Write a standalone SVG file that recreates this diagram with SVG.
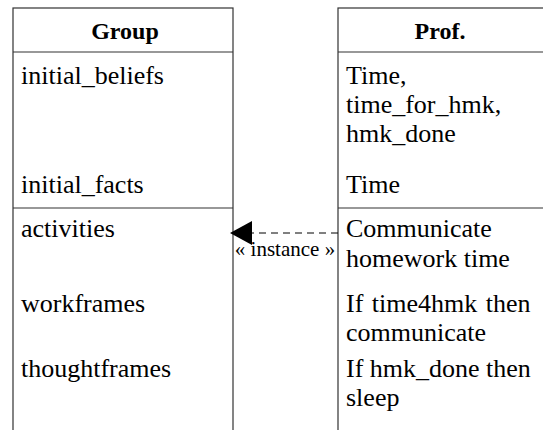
<svg xmlns="http://www.w3.org/2000/svg" width="543" height="430" viewBox="0 0 543 430">
<style>
  .box { fill: #ffffff; stroke: #333333; stroke-width: 1.2; }
  .sep { stroke: #333333; stroke-width: 1.2; }
  text { font-family: 'Liberation Serif', 'DejaVu Serif', serif; fill: #000000; }
  .t { font-size: 26px; }
  .h { font-size: 24px; font-weight: bold; text-anchor: middle; }
  .lbl { font-size: 21px; text-anchor: middle; }
  .dash { stroke: #000000; stroke-width: 1; stroke-dasharray: 7,5; fill: none; }
</style>
<rect x="0" y="0" width="543" height="430" fill="#ffffff"/>
<g id="group">
  <rect class="box" x="13" y="8" width="220" height="440"/>
  <line class="sep" x1="13" y1="52" x2="233" y2="52"/>
  <line class="sep" x1="13" y1="208" x2="233" y2="208"/>
  <text class="h" x="125" y="39">Group</text>
  <text class="t" x="21" y="84">initial_beliefs</text>
  <text class="t" x="21" y="193">initial_facts</text>
  <text class="t" x="21" y="237">activities</text>
  <text class="t" x="21" y="312">workframes</text>
  <text class="t" x="21" y="377">thoughtframes</text>
</g>
<g id="prof">
  <rect class="box" x="338" y="8" width="210" height="440"/>
  <line class="sep" x1="338" y1="52" x2="548" y2="52"/>
  <line class="sep" x1="338" y1="208" x2="548" y2="208"/>
  <text class="h" x="440" y="39">Prof.</text>
  <text class="t" x="346" y="84">Time,</text>
  <text class="t" x="346" y="113">time_for_hmk,</text>
  <text class="t" x="346" y="142">hmk_done</text>
  <text class="t" x="346" y="193">Time</text>
  <text class="t" x="346" y="237">Communicate</text>
  <text class="t" x="346" y="267">homework time</text>
  <text class="t" x="346" y="312" word-spacing="2">If time4hmk then</text>
  <text class="t" x="346" y="341">communicate</text>
  <text class="t" x="346" y="377">If hmk_done then</text>
  <text class="t" x="346" y="406">sleep</text>
</g>
<g id="connectors">
  <line class="dash" x1="338" y1="233" x2="236" y2="233"/>
  <polygon points="230,233 252,221 252,245" fill="#000000"/>
  <text class="lbl" x="285" y="256">« instance »</text>
</g>
</svg>
